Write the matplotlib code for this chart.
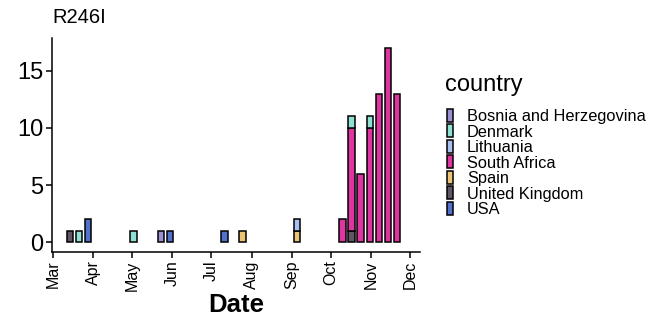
import numpy as np
import pandas as pd
import matplotlib
matplotlib.use("Agg")
import matplotlib.pyplot as plt
import matplotlib.dates as mdates
from matplotlib.patches import Rectangle

plt.rcParams['font.family'] = ['Liberation Sans', 'DejaVu Sans']

# Weekly counts of sequences carrying the mutation, per country
week = ["2020-03-14", "2020-03-21", "2020-03-28", "2020-05-02", "2020-05-23",
        "2020-05-30", "2020-07-11", "2020-07-25", "2020-09-05", "2020-10-10",
        "2020-10-17", "2020-10-24", "2020-10-31", "2020-11-07", "2020-11-14",
        "2020-11-21"]

countries = ["Bosnia and Herzegovina", "Denmark", "Lithuania", "South Africa",
             "Spain", "United Kingdom", "USA"]
colors = ["#9d8fd4", "#8fe2d3", "#a9c1f0", "#df35a0", "#ebc475", "#5f5765", "#5171cb"]

bosnia    = [0, 0, 0, 0, 1, 0, 0, 0, 0, 0, 0, 0, 0, 0, 0, 0]
denmark   = [0, 1, 0, 1, 0, 0, 0, 0, 0, 0, 1, 0, 1, 0, 0, 0]
lithuania = [0, 0, 0, 0, 0, 0, 0, 0, 1, 0, 0, 0, 0, 0, 0, 0]
s_africa  = [0, 0, 0, 0, 0, 0, 0, 0, 0, 2, 9, 6, 10, 13, 17, 13]
spain     = [0, 0, 0, 0, 0, 0, 0, 1, 1, 0, 0, 0, 0, 0, 0, 0]
uk        = [1, 0, 0, 0, 0, 0, 0, 0, 0, 0, 1, 0, 0, 0, 0, 0]
usa       = [0, 0, 2, 0, 0, 1, 1, 0, 0, 0, 0, 0, 0, 0, 0, 0]

series = [bosnia, denmark, lithuania, s_africa, spain, uk, usa]

dates = mdates.date2num(pd.to_datetime(week).to_pydatetime())

W, H = 662, 321
fig = plt.figure(figsize=(W / 100, H / 100), dpi=100)
ax = fig.add_axes([52 / W, 1 - 252 / H, (420 - 52) / W, (252 - 38) / H])

# stack with the last country at the bottom
bottom = np.zeros(len(week))
for name, col, vals in reversed(list(zip(countries, colors, series))):
    vals = np.array(vals, dtype=float)
    mask = vals > 0
    ax.bar(dates[mask], vals[mask], bottom=bottom[mask], width=5.0,
           color=col, edgecolor="black", linewidth=1.1, zorder=2)
    bottom += vals

start = mdates.date2num(pd.Timestamp("2020-03-01").to_pydatetime())
end = mdates.date2num(pd.Timestamp("2020-12-01").to_pydatetime())
ax.set_xlim(start - 0.8, end + 7.7)
ax.set_ylim(-0.85, 17.85)

months = pd.date_range("2020-03-01", "2020-12-01", freq="MS")
ax.set_xticks(mdates.date2num(months.to_pydatetime()))
ax.set_xticklabels([m.strftime("%b") for m in months], rotation=90,
                   fontsize=11.5, va="top", ha="center")
ax.set_yticks([0, 5, 10, 15])
ax.set_yticklabels(["0", "5", "10", "15"], fontsize=17)

for s in ["top", "right"]:
    ax.spines[s].set_visible(False)
for s in ["left", "bottom"]:
    ax.spines[s].set_linewidth(1.1)
ax.tick_params(axis="both", length=4, width=1.1, color="black", pad=2)

ax.set_xlabel("Date", fontsize=18.5, fontweight="bold", labelpad=2)
fig.text(52 / W, 1 - 23 / H, "R246I", fontsize=14.5, ha="left", va="baseline")

# legend drawn in figure pixel coordinates
fig.text(445 / W, 1 - 91 / H, "country", fontsize=17, ha="left", va="baseline")
y0, step = 115.0, 15.55
for i, (name, col) in enumerate(zip(countries, colors)):
    yc = y0 + i * step
    fig.add_artist(Rectangle((447 / W, 1 - (yc + 6.5) / H), 5.5 / W, 13.0 / H,
                             transform=fig.transFigure, facecolor=col,
                             edgecolor="black", linewidth=1.1))
    fig.text(467 / W, 1 - yc / H, name, fontsize=11.8, ha="left",
             va="center_baseline")

fig.savefig("out.png", dpi=100)
